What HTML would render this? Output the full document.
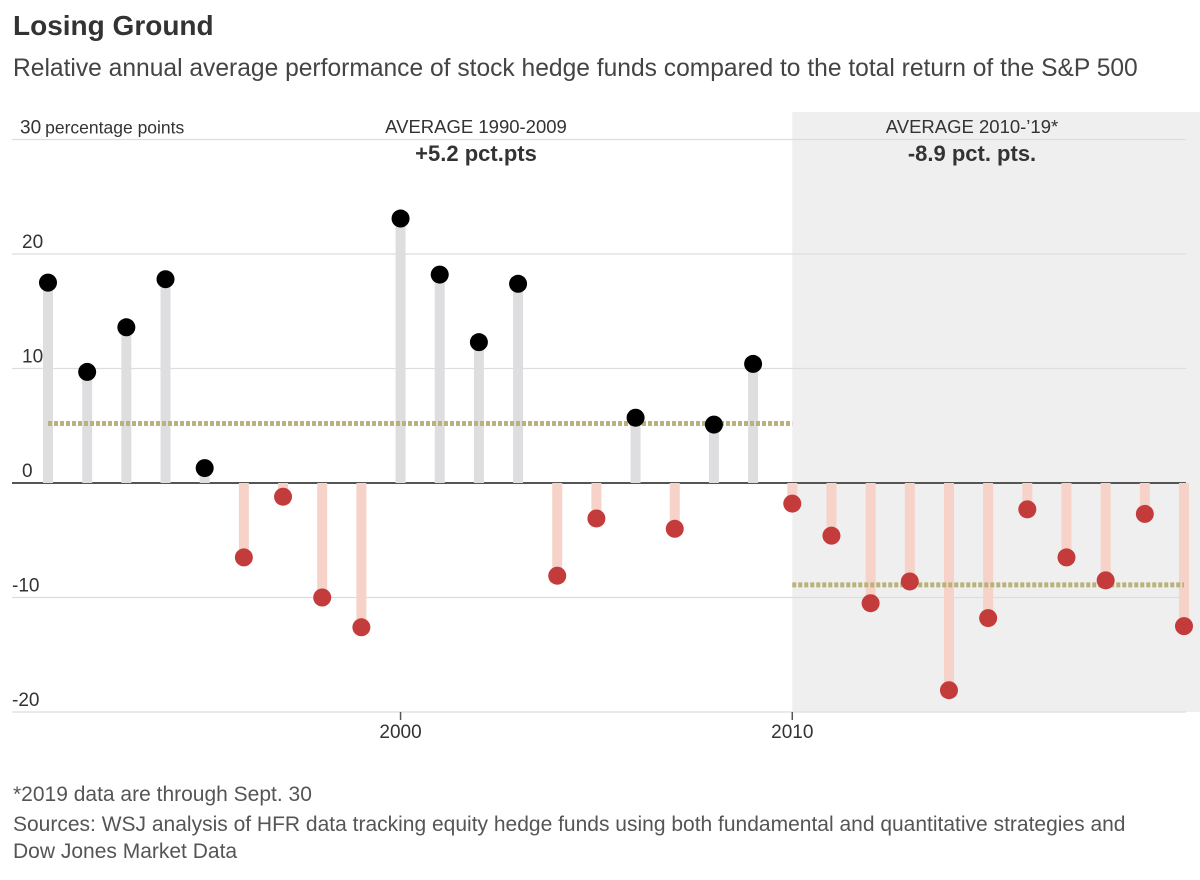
<!DOCTYPE html>
<html><head><meta charset="utf-8"><style>
body{margin:0;background:#fff;font-family:"Liberation Sans",sans-serif;color:#333}
.t{position:absolute;white-space:nowrap}
</style></head><body>
<div style="position:relative;width:1200px;height:880px;overflow:hidden">
<div class="t" style="left:13px;top:10px;font-size:28px;font-weight:bold;color:#333">Losing Ground</div>
<div class="t" style="left:13px;top:55px;font-size:24.6px;color:#444">Relative annual average performance of stock hedge funds compared to the total return of the S&amp;P 500</div>
<svg id="c" width="1200" height="880" style="position:absolute;left:0;top:0"></svg>
<div class="t" style="left:13px;top:783px;font-size:21px;color:#555">*2019 data are through Sept. 30</div>
<div class="t" style="left:13px;top:811px;font-size:21px;color:#555;line-height:27px">Sources: WSJ analysis of HFR data tracking equity hedge funds using both fundamental and quantitative strategies and<br>Dow Jones Market Data</div>
</div>
<script>
const years=[1990,1991,1992,1993,1994,1995,1996,1997,1998,1999,2000,2001,2002,2003,2004,2005,2006,2007,2008,2009,2010,2011,2012,2013,2014,2015,2016,2017,2018,2019];
const values=[17.5,9.7,13.6,17.8,1.3,-6.5,-1.2,-10,-12.6,23.1,18.2,12.3,17.4,-8.1,-3.1,5.7,-4,5.1,10.4,-1.8,-4.6,-10.5,-8.6,-18.1,-11.8,-2.3,-6.5,-8.5,-2.7,-12.5];
const yTicks=[30,20,10,0,-10,-20];
const xTickLabels=["2000","2010"];
const xTickIdx=[9,19];
const averages=[5.2,-8.9];
const avgRanges=[[0,19],[19,29]];
const NS="http://www.w3.org/2000/svg",svg=document.getElementById('c');
const x=i=>48+i*(1184-48)/29;
const y=v=>483-v*11.45;
function el(t,a,p){const e=document.createElementNS(NS,t);for(const k in a)e.setAttribute(k,a[k]);(p||svg).appendChild(e);return e;}
let r=el('rect',{x:x(19),y:112,width:1200-x(19),height:600,fill:'#efeff0'});


yTicks.forEach(v=>{
 let l=el('line',{x1:12,x2:1186,y1:y(v),y2:y(v),stroke:v===0?'#555':'#ddd','stroke-width':v===0?2:1.2});
 
 
 let t=el('text',{x:v===30?20:(v<0?12:22),y:y(v)-6,'font-size':19,fill:'#333','font-family':'Liberation Sans'});
 t.textContent=v===30?'30':String(v);
 
 
 if(v===30){let u=el('tspan',{'font-size':17.5,dx:4});u.textContent='percentage points';t.appendChild(u);}
});
xTickIdx.forEach((i,k)=>{
 let l=el('line',{x1:x(i),x2:x(i),y1:712,y2:720,stroke:'#555','stroke-width':1.5});
 
 
 let t=el('text',{x:x(i),y:738,'font-size':19,fill:'#333','text-anchor':'middle'});
 t.textContent=xTickLabels[k];
 
 
});
values.forEach((v,i)=>{
 let s=el('line',{x1:x(i),x2:x(i),y1:y(0),y2:y(v),stroke:v>=0?'#dedee0':'#f6d2c8','stroke-width':10});
 
 
});
averages.forEach((a,k)=>{
 let l=el('line',{x1:x(avgRanges[k][0]),x2:x(avgRanges[k][1]),y1:y(a),y2:y(a),stroke:'#b9b27a','stroke-width':5,'stroke-dasharray':'4 2'});
 
 
});
values.forEach((v,i)=>{
 let c=el('circle',{cx:x(i),cy:y(v),r:9,fill:v>=0?'#000':'#c33b3b'});
 
 
});
[[476,'AVERAGE 1990-2009','+5.2 pct.pts'],[972,'AVERAGE 2010-’19*','-8.9 pct. pts.']].forEach((a,k)=>{
 let t=el('text',{x:a[0],y:133,'font-size':18.5,fill:'#333','text-anchor':'middle'});t.textContent=a[1];
 
 
 let b=el('text',{x:a[0],y:161,'font-size':22,'font-weight':'bold',fill:'#333','text-anchor':'middle'});b.textContent=a[2];
 
 
});
</script>
</body></html>
